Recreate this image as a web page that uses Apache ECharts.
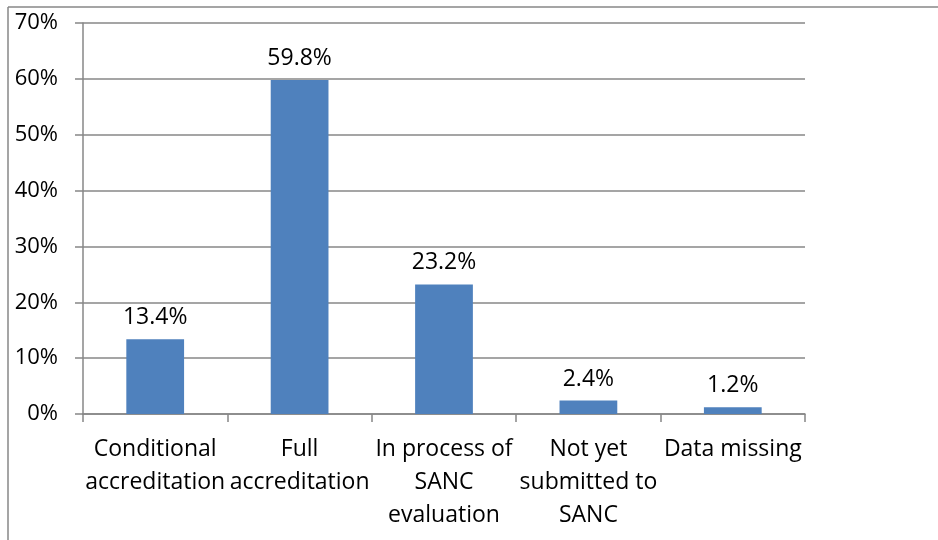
<!DOCTYPE html>
<html>
<head>
<meta charset="utf-8">
<script src="https://cdn.jsdelivr.net/npm/echarts@6/dist/echarts.min.js"></script>
<style>
  html, body { margin: 0; padding: 0; background: #fff; }
  #chart { width: 938px; height: 540px; }
</style>
</head>
<body>
<div id="chart"></div>
<script>
// Accreditation status categories and shares (%)
const categories = [
  'Conditional\naccreditation',
  'Full\naccreditation',
  'In process of\nSANC\nevaluation',
  'Not yet\nsubmitted to\nSANC',
  'Data missing'
];
const shares = [13.4, 59.8, 23.2, 2.4, 1.2];

const FONT = '"Open Sans", Lato, sans-serif';
const GREY = '#878787';

const chart = echarts.init(document.getElementById('chart'), null, { renderer: 'canvas' });

chart.setOption({
  animation: false,
  grid: { left: 83, right: 133, top: 23, bottom: 126, containLabel: false },
  xAxis: {
    type: 'category',
    data: categories,
    axisLine: { lineStyle: { color: GREY, width: 1.5 } },
    axisTick: { show: true, length: 8, alignWithLabel: false, lineStyle: { color: GREY, width: 1.5 } },
    axisLabel: {
      color: '#000',
      fontFamily: FONT,
      fontSize: 23,
      lineHeight: 33,
      margin: 19,
      interval: 0
    }
  },
  yAxis: {
    type: 'value',
    min: 0,
    max: 70,
    interval: 10,
    axisLine: { show: true, lineStyle: { color: GREY, width: 1.5 } },
    axisTick: { show: true, length: 8, lineStyle: { color: GREY, width: 1.5 } },
    splitLine: { lineStyle: { color: GREY, width: 1.5 } },
    axisLabel: {
      color: '#000',
      fontFamily: FONT,
      fontSize: 22,
      margin: 25,
      formatter: v => v + '%'
    }
  },
  series: [{
    type: 'bar',
    data: shares,
    barWidth: '40%',
    itemStyle: { color: '#4F81BD' },
    label: {
      show: true,
      position: 'top',
      distance: 10,
      color: '#000',
      fontFamily: FONT,
      fontSize: 23,
      formatter: p => p.value.toFixed(1) + '%'
    }
  }],
  graphic: [
    { type: 'line', shape: { x1: 8, y1: 7, x2: 938, y2: 7 }, style: { stroke: GREY, lineWidth: 1.5 } },
    { type: 'line', shape: { x1: 8, y1: 7, x2: 8, y2: 540 }, style: { stroke: GREY, lineWidth: 1.5 } }
  ]
});
</script>
</body>
</html>
